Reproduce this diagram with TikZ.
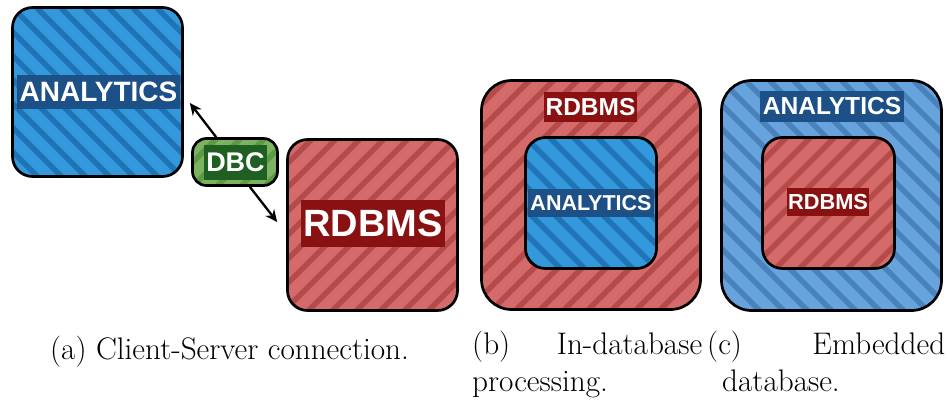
\documentclass[tikz,border=0pt]{standalone}
\usepackage{fontspec}
\setsansfont{Liberation Sans}
\usetikzlibrary{arrows.meta}
\definecolor{blueA}{HTML}{3398DC}
\definecolor{blueAs}{HTML}{1F74B6}
\definecolor{blueC}{HTML}{67A3DC}
\definecolor{blueCs}{HTML}{4A82BC}
\definecolor{redF}{HTML}{D46A6A}
\definecolor{redS}{HTML}{B44A4A}
\definecolor{greenF}{HTML}{7DB360}
\definecolor{greenS}{HTML}{5E9A44}
\definecolor{labBlue}{HTML}{1D5086}
\definecolor{labRed}{HTML}{8A1111}
\definecolor{labGreen}{HTML}{1F5F21}
\tikzset{
  box/.style={draw=black, line width=2.7pt, rounded corners=#1, inner sep=0pt},
  hatchNW/.style={path picture={\foreach \k in {-20,...,25}{\draw[draw=#1,line width=5.5pt] ([xshift=\k*24pt]path picture bounding box.north west) -- ++(400pt,-400pt);}}},
  hatchNE/.style={path picture={\foreach \k in {-20,...,35}{\draw[draw=#1,line width=5.5pt] ([xshift=\k*24pt]path picture bounding box.north west) -- ++(-400pt,-400pt);}}},
  lab/.style={fill=#1, text=white, inner sep=0pt},
  fs/.style={font=\sffamily\bfseries\fontsize{#1}{#1}\selectfont},
  sz/.style 2 args={minimum width=#1pt, minimum height=#2pt},
  arr/.style={line width=2.3pt, -{Stealth[length=12pt,width=11pt]}},
  capt/.style={inner sep=0pt, anchor=base west, align=left, font=\fontsize{31.2}{32}\selectfont}
}
\begin{document}
\begin{tikzpicture}[x=1pt,y=-1pt]
\useasboundingbox (0,0) rectangle (948,402);
% (a)
\node[box=20pt, fill=blueA, hatchNW=blueAs, sz={170}{169}] (anaA) at (97.5,92) {};
\node[lab=labBlue, fs=28, sz={163}{34}] (anaAlab) at (98.5,92) {ANALYTICS};
\node[box=14pt, fill=greenF, hatchNE=greenS, sz={85}{47}] (dbc) at (235,162) {};
\node[lab=labGreen, fs=27, sz={63}{35}] (dbcLab) at (235.5,162.5) {DBC};
\node[box=20pt, fill=redF, hatchNE=redS, sz={170}{171}] (rdbA) at (372.5,225) {};
\node[lab=labRed, fs=38, sz={144}{47}] (rdbAlab) at (373,223.5) {RDBMS};
\draw[arr] ([xshift=25pt]dbc.north west) -- ([shift={(6pt,-11pt)}]anaA.east);
\draw[arr] ([xshift=-29pt]dbc.south east) -- ([shift={(-9pt,3pt)}]rdbA.west);
% (b)
\node[box=30pt, fill=redF, hatchNE=redS, sz={219}{229}] (rdbB) at (591,195) {};
\node[box=20pt, fill=blueA, hatchNW=blueAs, sz={131}{131}] (anaB) at (591,203) {};
\node[lab=labRed, fs=24.5, sz={93}{30}] (rdbBlab) at (590.5,107) {RDBMS};
\node[lab=labBlue, fs=21.5, sz={126}{28}] (anaBlab) at (591,203) {ANALYTICS};
% (c)
\node[box=30pt, fill=blueC, hatchNW=blueCs, sz={220}{230}] (anaC) at (831.5,195.5) {};
\node[box=20pt, fill=redF, hatchNE=redS, sz={132}{131}] (rdbC) at (828.5,203) {};
\node[lab=labBlue, fs=24.6, sz={144}{31}] (anaClab) at (832,106.5) {ANALYTICS};
\node[lab=labRed, fs=21.8, sz={82}{28}] (rdbClab) at (828,202) {RDBMS};
% captions
\node[capt] (capA) at (50,359) {(a) Client-Server connection.};
\node[capt] (capB) at (472,391) {\hbox to 230pt{(b)\hfill In-database}\\[5pt]processing.};
\node[capt] (capC) at (707,391) {\hbox to 238pt{(c)\hfill Embedded}\\[5pt]\hspace*{15pt}database.};
\end{tikzpicture}
\end{document}
